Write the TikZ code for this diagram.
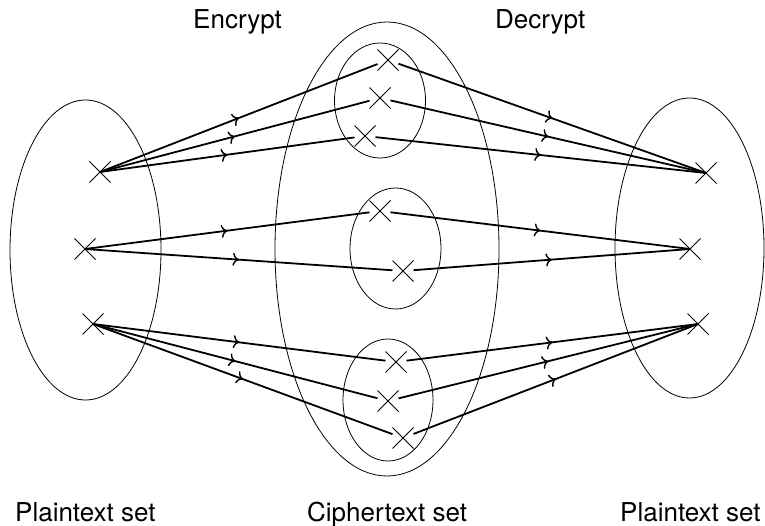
\documentclass[tikz,border=0pt]{standalone}
\usepackage{fontspec}
\setmainfont{TeX Gyre Heros}
\usetikzlibrary{shapes.misc,decorations.markings,arrows.meta}
\begin{document}
\begin{tikzpicture}[x=1pt,y=-1pt,
  setring/.style={line width=0.8pt},
  pt/.style={cross out, draw, line width=0.8pt, minimum size=15pt, inner sep=0pt, outer sep=3pt},
  map/.style={line width=1.8pt, postaction={decorate},
    decoration={markings, mark=at position 0.5 with {\arrow{Computer Modern Rightarrow[length=6pt,width=13pt,line width=1.4pt]}}}},
  lbl/.style={anchor=base west, inner sep=0pt, font=\fontsize{26}{30}\selectfont}]
\useasboundingbox (0,0) rectangle (765,526);

% set outlines
\draw[setring] (85.5,250) ellipse [x radius=75.5pt, y radius=150pt];
\draw[setring] (689.5,248) ellipse [x radius=74.5pt, y radius=150pt];
\draw[setring] (387,249) ellipse [x radius=112pt, y radius=227pt];
\draw[setring] (380,100.5) ellipse [x radius=45.5pt, y radius=57.5pt];
\draw[setring] (395.5,248.5) ellipse [x radius=45.5pt, y radius=60.5pt];
\draw[setring] (388,400) ellipse [x radius=45pt, y radius=61pt];

% plaintext elements (left)
\node[pt] (L1) at (100,172) {};
\node[pt] (L2) at (85,249) {};
\node[pt] (L3) at (93,324) {};
% ciphertext elements
\node[pt] (T1) at (388,60) {};
\node[pt] (T2) at (380,98) {};
\node[pt] (T3) at (365,136) {};
\node[pt] (M1) at (380,211) {};
\node[pt] (M2) at (403,271) {};
\node[pt] (B1) at (396,362) {};
\node[pt] (B2) at (388,401) {};
\node[pt] (B3) at (403,438) {};
% plaintext elements (right)
\node[pt] (R1) at (706,173) {};
\node[pt] (R2) at (690,249) {};
\node[pt] (R3) at (698,324) {};

% encryption
\foreach \c in {T1,T2,T3} \draw[map] (L1.center) -- (\c);
\foreach \c in {M1,M2} \draw[map] (L2.center) -- (\c);
\foreach \c in {B1,B2,B3} \draw[map] (L3.center) -- (\c);
% decryption
\foreach \c in {T1,T2,T3} \draw[map] (\c) -- (R1.center);
\foreach \c in {M1,M2} \draw[map] (\c) -- (R2.center);
\foreach \c in {B1,B2,B3} \draw[map] (\c) -- (R3.center);

% labels
\node[lbl] (enc) at (193,29) {Encrypt};
\node[lbl] (dec) at (495,29) {Decrypt};
\node[lbl] (pl) at (15,521) {Plaintext set};
\node[lbl] (ci) at (307,521) {Ciphertext set};
\node[lbl] (pr) at (620,521) {Plaintext set};
\end{tikzpicture}
\end{document}
